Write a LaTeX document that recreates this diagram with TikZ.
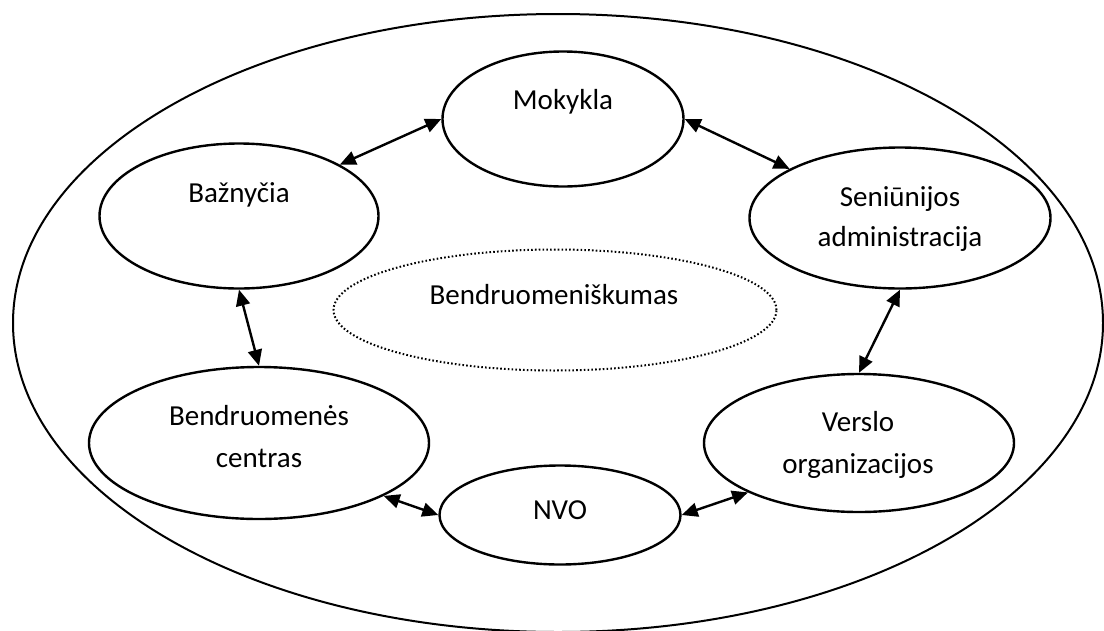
\documentclass[tikz,border=0pt]{standalone}
\usepackage{fontspec}
\setmainfont{Carlito}
\usetikzlibrary{shapes.geometric,arrows.meta}
\begin{document}
\begin{tikzpicture}[x=1pt,y=-1pt,
  oval/.style={ellipse,draw,line width=2.4pt,inner sep=0pt},
  outer/.style={ellipse,draw,line width=2pt,inner sep=0pt},
  dotoval/.style={ellipse,draw,line width=2pt,dash pattern=on 1.6pt off 2.2pt,inner sep=0pt},
  lbl/.style={anchor=base,inner sep=0pt,font=\fontsize{29}{40}\selectfont},
  link/.style={{Triangle[length=16pt,width=14pt]}-{Triangle[length=16pt,width=14pt]},line width=2.4pt,shorten <=0pt,shorten >=0pt}]
\useasboundingbox (0,0) rectangle (1104,630);
\fill[white] (0,0) rectangle (1104,630);
\node[outer,minimum width=1090pt,minimum height=618pt] (all) at (558,323) {};
\node[oval,minimum width=241pt,minimum height=135pt] (mok) at (563,119) {};
\node[oval,minimum width=279pt,minimum height=145pt] (baz) at (239,216) {};
\node[oval,minimum width=301pt,minimum height=141pt] (sen) at (900,218) {};
\node[dotoval,minimum width=443pt,minimum height=121pt] (ben) at (555,310) {};
\node[oval,minimum width=340pt,minimum height=152pt] (bc) at (259,443) {};
\node[oval,minimum width=310pt,minimum height=138pt] (ver) at (859,443) {};
\node[oval,minimum width=241pt,minimum height=99pt] (nvo) at (560,515) {};
\node[lbl] (tmok) at (563,109) {Mokykla};
\node[lbl] (tbaz) at (239,202) {Bažnyčia};
\node[lbl] (tsen1) at (900,206) {Seniūnijos};
\node[lbl] (tsen2) at (900,246) {administracija};
\node[lbl] (tben) at (554,304) {Bendruomeniškumas};
\node[lbl] (tbc1) at (259,425) {Bendruomenės};
\node[lbl] (tbc2) at (259,467) {centras};
\node[lbl] (tver1) at (858,431) {Verslo};
\node[lbl] (tver2) at (858,473) {organizacijos};
\node[lbl] (tnvo) at (560,519) {NVO};
\draw[link] (baz.27) -- (mok.west);
\draw[link] (mok.east) -- (sen.156);
\draw[link] (baz.south) -- (bc.north);
\draw[link] (sen.south) -- (ver.north);
\draw[link] (bc.-23) -- (nvo.west);
\draw[link] (nvo.east) -- (ver.204);
\end{tikzpicture}
\end{document}
